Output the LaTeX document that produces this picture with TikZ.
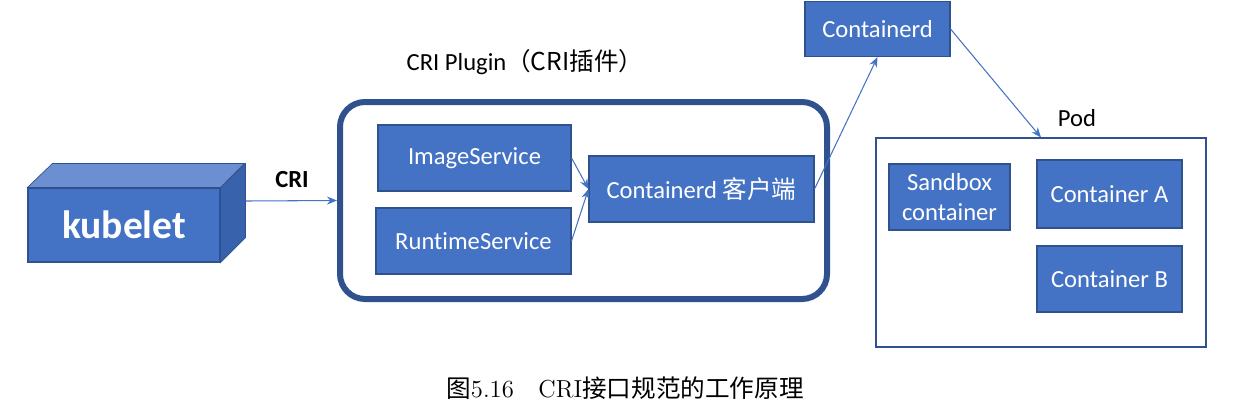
\documentclass[tikz,border=0pt]{standalone}
\usepackage{fontspec}
\newfontfamily\cali[Ligatures=NoCommon]{Carlito}
\newfontfamily\cjk{Noto Sans CJK SC}
\usetikzlibrary{
    arrows.meta,
    calc
}
\definecolor{offblue}{HTML}{4472C4}
\definecolor{edgeblue}{HTML}{2F528F}
\definecolor{topblue}{HTML}{6C8FD1}
\definecolor{sideblue}{HTML}{3862AB}
\tikzset{
  svcbox/.style={
    draw=edgeblue,
    fill=offblue,
    line width=0.6pt,
    text=white,
    font=\cali\fontsize{14}{17}\selectfont,
    align=center,
    inner sep=0pt
  },
  pluginframe/.style={
    draw=edgeblue,
    line width=1.2mm,
    rounded corners=5mm,
    inner sep=0pt
  },
  flow/.style={
    draw=offblue,
    line width=0.6pt,
    -{Stealth[length=2mm,width=1.6mm]}
  },
  tag/.style={
    font=\cali\fontsize{14}{17}\selectfont,
    inner sep=0pt
  }
}

\begin{document}
\begin{tikzpicture}[x=0.2mm,y=-0.2mm]

    \useasboundingbox (0,0) rectangle (1260,410);

    % kubelet 立方体
    \node[svcbox, minimum width=192*0.2mm, minimum height=74*0.2mm,
          font=\cali\bfseries\fontsize{22.5}{26}\selectfont] (kubelet) at (124,225) {kubelet};
    \fill[topblue, draw=edgeblue, line width=0.4pt]
        (kubelet.north west) -- ++(25,-24) -- ++(192,0)
        -- (kubelet.north east) -- cycle;
    \fill[sideblue, draw=edgeblue, line width=0.4pt]
        (kubelet.north east) -- ++(25,-24) -- ++(0,74)
        -- (kubelet.south east) -- cycle;
    \coordinate (kubeside) at ($(kubelet.east)+(25,-24)$);

    % CRI Plugin 框
    \node[pluginframe, minimum width=487*0.2mm, minimum height=197*0.2mm] (plugin) at (583.5,200.5) {};
    \node[tag] (pluginlabel) at (525,62) {CRI Plugin{\cjk （CRI插件）}};

    % CRI 连线
    \draw[flow] (kubeside) -- (plugin.west);
    \node[font=\cali\bfseries\fontsize{14}{17}\selectfont] (crilabel) at (292,180) {CRI};

    % 插件内部
    \node[svcbox, minimum width=193*0.2mm, minimum height=66*0.2mm] (image) at (474.5,158) {ImageService};
    \node[svcbox, minimum width=195*0.2mm, minimum height=66*0.2mm] (runtime) at (473.5,241) {RuntimeService};
    \node[svcbox, minimum width=225*0.2mm, minimum height=66*0.2mm] (client) at (701.5,189) {Containerd {\cjk 客户端}};
    \draw[flow] (image.east) -- (client.west);
    \draw[flow] (runtime.east) -- (client.west);

    % Containerd
    \node[svcbox, minimum width=145*0.2mm, minimum height=55*0.2mm] (containerd) at (877.5,29) {Containerd};
    \draw[flow] (client.east) -- (containerd.south);

    % Pod
    \node[draw=edgeblue, line width=0.6pt, minimum width=330*0.2mm, minimum height=209*0.2mm] (pod) at (1041,242.5) {};
    \node[tag] (podlabel) at (1077,118) {Pod};
    \draw[flow] (containerd.east) -- (pod.north);

    \node[svcbox, minimum width=121*0.2mm, minimum height=66*0.2mm] (sandbox) at (949.5,197) {Sandbox\\container};
    \node[svcbox, minimum width=145*0.2mm, minimum height=68*0.2mm] (conta) at (1109.5,194) {Container A};
    \node[svcbox, minimum width=145*0.2mm, minimum height=66*0.2mm] (contb) at (1109.5,279) {Container B};

    % 图题
    \node[font=\fontsize{14}{17}\selectfont] (caption) at (625,388)
        {{\cjk 图}5.16\quad CRI{\cjk 接口规范的工作原理}};

\end{tikzpicture}
\end{document}
